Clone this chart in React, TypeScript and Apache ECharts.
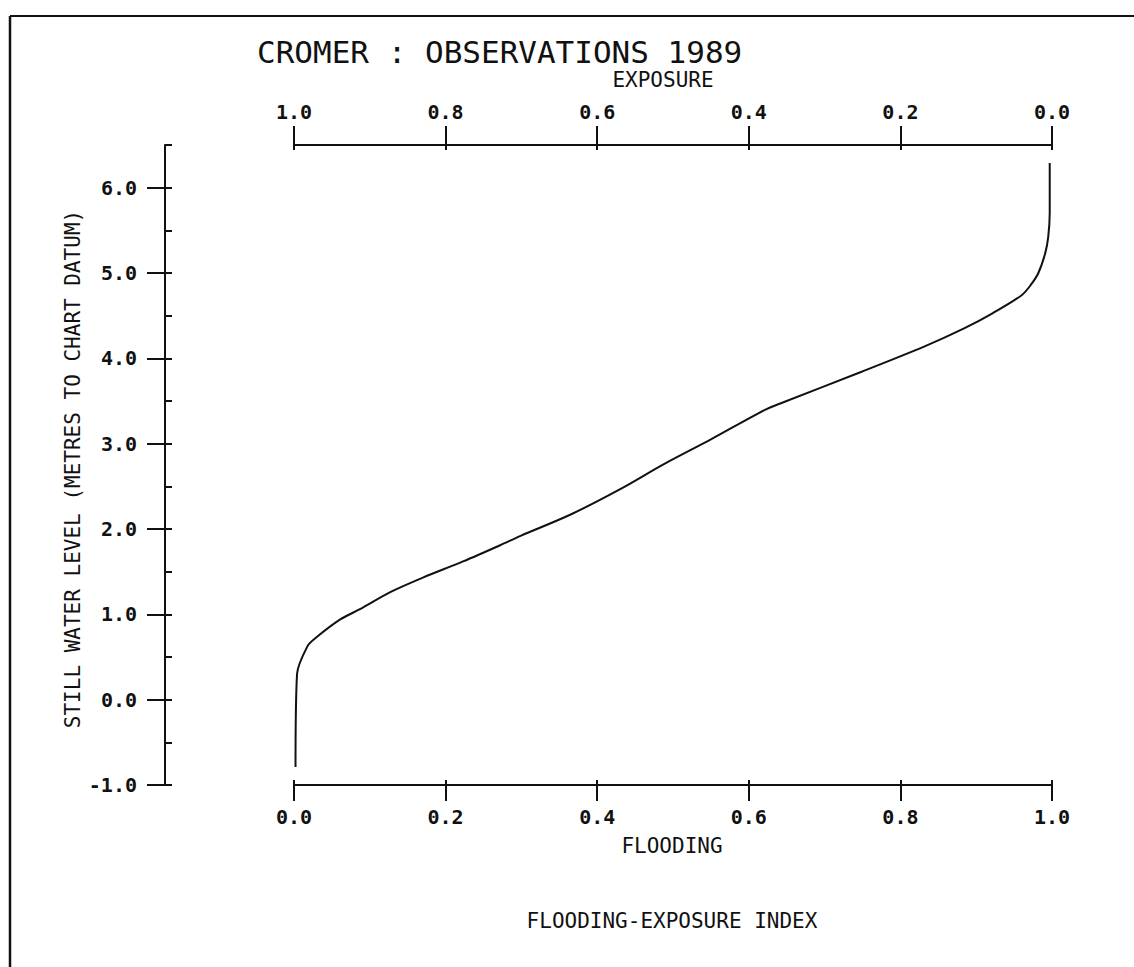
import React, { useEffect, useRef } from "react";
import * as echarts from "echarts";

// Flooding index (x) vs still water level in metres to chart datum (y)
const flooding = [0.002, 0.004, 0.018, 0.028, 0.061, 0.087, 0.127, 0.17, 0.223, 0.272, 0.299, 0.365, 0.431, 0.488, 0.55, 0.62, 0.644, 0.748, 0.832, 0.884, 0.922, 0.96, 0.972, 0.982, 0.991, 0.995, 0.997, 0.997];
const level = [-0.79, 0.3, 0.63, 0.72, 0.94, 1.06, 1.26, 1.43, 1.62, 1.81, 1.92, 2.17, 2.47, 2.76, 3.05, 3.39, 3.48, 3.84, 4.14, 4.35, 4.53, 4.74, 4.86, 5.0, 5.23, 5.42, 5.7, 6.29];

const xTicks = [0, 0.2, 0.4, 0.6, 0.8, 1.0];
const yMajorTicks = [-1, 0, 1, 2, 3, 4, 5, 6];
const yMinorTicks = [-1, -0.5, 0, 0.5, 1, 1.5, 2, 2.5, 3, 3.5, 4, 4.5, 5, 5.5, 6, 6.5];

const TITLE = "CROMER : OBSERVATIONS 1989";
const TOP_NAME = "EXPOSURE";
const BOTTOM_NAME = "FLOODING";
const FOOT_NAME = "FLOODING-EXPOSURE INDEX";
const Y_NAME = "STILL WATER LEVEL (METRES TO CHART DATUM)";

const FONT = "DejaVu Sans Mono";
const INK = "#111";

export default function App() {
  const ref = useRef<HTMLDivElement>(null);
  useEffect(() => {
    if (!ref.current) return;
    const chart = echarts.init(ref.current, null, { renderer: "svg" });
    const fmt = (v: number) => Number(v).toFixed(1);
    const lbl = { fontFamily: FONT, fontSize: 20, fontWeight: "bold", color: INK, lineHeight: 20 };
    const line = { show: true, onZero: false, lineStyle: { color: INK, width: 2 } };
    const noLine = { show: false, onZero: false };
    const data = flooding.map((x, i) => [x, level[i]]);
    chart.setOption({
      animation: false,
      backgroundColor: "#fff",
      grid: { left: 294, right: 82, top: 145, bottom: 182 },
      xAxis: [
        {
          type: "value", position: "bottom", min: 0, max: 1,
          axisLine: line, splitLine: { show: false },
          axisTick: { show: true, inside: false, length: 16, customValues: xTicks, lineStyle: { color: INK, width: 2 } },
          axisLabel: { ...lbl, margin: 22, customValues: xTicks, formatter: fmt },
        },
        {
          type: "value", position: "bottom", min: 0, max: 1,
          axisLine: noLine, splitLine: { show: false },
          axisTick: { show: true, inside: true, length: 5, customValues: xTicks, lineStyle: { color: INK, width: 2 } },
          axisLabel: { show: false },
        },
        {
          type: "value", position: "top", min: 0, max: 1, inverse: true,
          axisLine: line, splitLine: { show: false },
          axisTick: { show: true, inside: false, length: 19, customValues: xTicks, lineStyle: { color: INK, width: 2 } },
          axisLabel: { ...lbl, margin: 23, customValues: xTicks, formatter: fmt },
        },
        {
          type: "value", position: "top", min: 0, max: 1, inverse: true,
          axisLine: noLine, splitLine: { show: false },
          axisTick: { show: true, inside: true, length: 5, customValues: xTicks, lineStyle: { color: INK, width: 2 } },
          axisLabel: { show: false },
        },
      ],
      yAxis: [
        {
          type: "value", position: "left", offset: 129, min: -1, max: 6.5,
          axisLine: line, splitLine: { show: false },
          axisTick: { show: true, inside: false, length: 18, customValues: yMajorTicks, lineStyle: { color: INK, width: 2 } },
          axisLabel: { ...lbl, margin: 28, customValues: yMajorTicks, formatter: fmt },
        },
        {
          type: "value", position: "left", offset: 129, min: -1, max: 6.5,
          axisLine: noLine, splitLine: { show: false },
          axisTick: { show: true, inside: true, length: 7, customValues: yMinorTicks, lineStyle: { color: INK, width: 2 } },
          axisLabel: { show: false },
        },
      ],
      series: [
        {
          type: "line",
          xAxisIndex: 0,
          yAxisIndex: 0,
          data,
          showSymbol: false,
          smooth: 0.3,
          lineStyle: { color: INK, width: 2 },
        },
      ],
      graphic: [
        { type: "line", shape: { x1: 10, y1: 16, x2: 1134, y2: 16 }, style: { stroke: INK, lineWidth: 2 } },
        { type: "line", shape: { x1: 10, y1: 16, x2: 10, y2: 967 }, style: { stroke: INK, lineWidth: 2.5 } },
        { type: "text", x: 257, y: 52, style: { text: TITLE, font: `31px "${FONT}"`, fill: INK, textAlign: "left", textVerticalAlign: "middle" } },
        { type: "text", x: 663, y: 80, style: { text: TOP_NAME, font: `21px "${FONT}"`, fill: INK, textAlign: "center", textVerticalAlign: "middle" } },
        { type: "text", x: 672, y: 846, style: { text: BOTTOM_NAME, font: `21px "${FONT}"`, fill: INK, textAlign: "center", textVerticalAlign: "middle" } },
        { type: "text", x: 672, y: 921, style: { text: FOOT_NAME, font: `21px "${FONT}"`, fill: INK, textAlign: "center", textVerticalAlign: "middle" } },
        { type: "text", x: 73, y: 469, rotation: Math.PI / 2, style: { text: Y_NAME, font: `21px "${FONT}"`, fill: INK, textAlign: "center", textVerticalAlign: "middle" } },
      ],
    });
    return () => chart.dispose();
  }, []);
  return <div ref={ref} style={{ position: "fixed", left: 0, top: 0, width: 1134, height: 967 }} />;
}
